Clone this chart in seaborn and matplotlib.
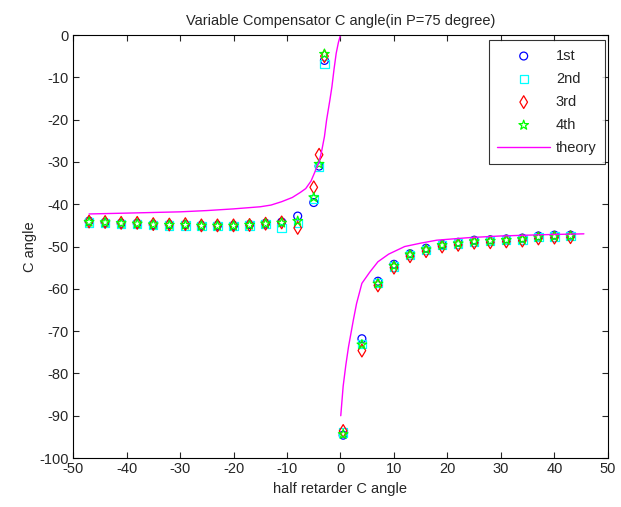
import numpy as np
import seaborn as sns
import matplotlib
matplotlib.use("Agg")
import matplotlib.pyplot as plt

# measured points (half retarder C angle)
x_meas = [-47, -44, -41, -38, -35, -32, -29, -26, -23, -20, -17, -14, -11, -8, -5, -4, -3,
          0.5, 4, 7, 10, 13, 16, 19, 22, 25, 28, 31, 34, 37, 40, 43]

first = [-44.0, -44.3, -44.5, -44.5, -44.8, -44.8, -44.8, -45.0, -45.0, -45.0, -44.8, -44.5,
         -44.2, -42.8, -39.6, -31.0, -6.0,
         -94.6, -71.8, -58.2, -54.2, -51.7, -50.4, -49.5, -49.0, -48.5, -48.4, -48.2, -48.0,
         -47.5, -47.3, -47.3]
second = [-44.3, -44.4, -44.6, -44.7, -44.9, -45.0, -45.0, -45.2, -45.1, -45.1, -45.0, -44.7,
          -45.6, -44.4, -38.8, -31.2, -6.8,
          -94.0, -73.0, -58.7, -54.7, -52.0, -50.8, -49.7, -49.3, -48.8, -48.7, -48.5, -48.3,
          -47.8, -47.6, -47.5]
third = [-44.1, -44.2, -44.4, -44.4, -44.7, -44.8, -44.7, -45.0, -45.0, -45.0, -44.9, -44.6,
         -44.3, -45.6, -36.0, -28.3, -5.0,
         -93.6, -74.6, -59.2, -55.0, -52.3, -51.1, -50.0, -49.6, -49.1, -49.0, -48.8, -48.6,
         -48.1, -47.9, -47.8]
fourth = [-44.2, -44.3, -44.5, -44.6, -44.8, -44.9, -44.9, -45.1, -45.1, -45.1, -44.9, -44.6,
          -44.4, -44.0, -38.4, -30.5, -4.5,
          -94.4, -73.2, -58.8, -54.6, -51.9, -50.7, -49.7, -49.3, -48.8, -48.7, -48.5, -48.3,
          -47.8, -47.6, -47.5]

# theory curve (two branches)
x_th_left = [-47, -40, -30, -25, -20, -15, -13, -11, -9, -7.5, -6.5, -5.5, -5, -4.5, -4,
             -3.5, -3, -2.6, -2, -1.6, -1.2, -0.8, -0.4, 0]
y_th_left = [-42.3, -42.1, -41.8, -41.5, -41.1, -40.6, -40.2, -39.4, -38.4, -37.2, -36.3,
             -34.5, -33.0, -31.5, -30.0, -27.3, -24.0, -20.1, -15.5, -12.2, -8.0, -4.3, -1.8, 0]
x_th_right = [0.05, 0.5, 1, 1.5, 2.4, 3, 4, 5.5, 7, 9, 12, 15, 18, 24, 30, 38, 45.5]
y_th_right = [-90, -83, -78, -73.7, -67.4, -63.5, -58.7, -56, -53.6, -51.8, -50.0, -49.2,
              -48.5, -47.9, -47.5, -47.2, -47.0]

sns.set_style("ticks")
plt.rcParams['font.family'] = ['Liberation Sans', 'DejaVu Sans']
plt.rcParams['axes.unicode_minus'] = False
plt.rcParams['xtick.direction'] = 'in'
plt.rcParams['ytick.direction'] = 'in'

fig = plt.figure(figsize=(6.21, 5.07), dpi=100)
ax = fig.add_axes([0.1176, 0.0966, 0.8614, 0.8343])

fs = 10.5
sns.scatterplot(x=x_meas, y=first, marker='o', s=32, facecolors='none', edgecolor='#0000ff',
                linewidth=0.9, label='1st', ax=ax)
sns.scatterplot(x=x_meas, y=second, marker='s', s=36, facecolors='none', edgecolor='#00ffff',
                linewidth=0.9, label='2nd', ax=ax)
sns.scatterplot(x=x_meas, y=third, marker='d', s=42, facecolors='none', edgecolor='#ff0000',
                linewidth=0.9, label='3rd', ax=ax)
sns.scatterplot(x=x_meas, y=fourth, marker='*', s=52, facecolors='none', edgecolor='#00ff00',
                linewidth=0.9, label='4th', ax=ax)
sns.lineplot(x=x_th_left, y=y_th_left, color='#ff00ff', linewidth=1.0, sort=False,
             label='theory', ax=ax)
sns.lineplot(x=x_th_right, y=y_th_right, color='#ff00ff', linewidth=1.0, sort=False, ax=ax)

ax.set_xlim(-50, 50)
ax.set_ylim(-100, 0)
ax.set_xticks(np.arange(-50, 51, 10))
ax.set_yticks(np.arange(-100, 1, 10))
ax.tick_params(axis='both', which='both', top=True, right=True, length=4, width=0.8,
               labelsize=fs, pad=3)
for sp in ax.spines.values():
    sp.set_linewidth(0.8)
    sp.set_color('black')

ax.set_title('Variable Compensator C angle(in P=75 degree)', fontsize=fs, pad=7)
ax.set_xlabel('half retarder C angle', fontsize=fs, labelpad=4)
ax.set_ylabel('C angle', fontsize=fs, labelpad=2)

leg = ax.legend(loc='upper right', bbox_to_anchor=(0.995, 0.988), borderaxespad=0,
                fontsize=fs, frameon=True, fancybox=False, handlelength=3.6,
                labelspacing=0.62, borderpad=0.6, handletextpad=0.4)
leg.get_frame().set_edgecolor('black')
leg.get_frame().set_linewidth(0.8)

fig.savefig('out.png', dpi=100)
